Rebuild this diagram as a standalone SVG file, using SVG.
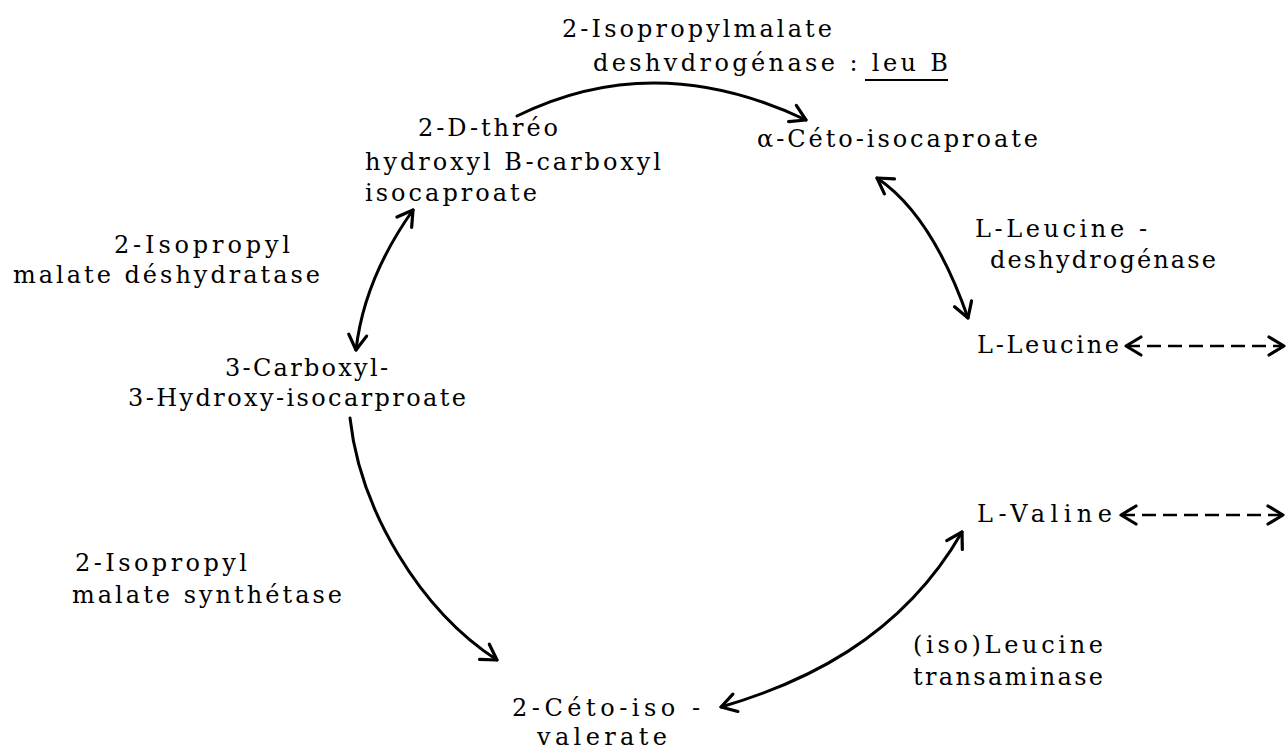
<svg xmlns="http://www.w3.org/2000/svg" width="1288" height="749" viewBox="0 0 1288 749">
<style>
text{font-family:"DejaVu Serif","Liberation Serif",serif;font-size:24px;fill:#000}
.c{fill:none;stroke:#000;stroke-width:3;stroke-linecap:round}
.d{fill:none;stroke:#000;stroke-width:2.5;stroke-dasharray:14 7}
</style>
<defs>
<marker id="ah" markerUnits="userSpaceOnUse" markerWidth="30" markerHeight="30" viewBox="-20 -15 30 30" refX="0" refY="0" orient="auto-start-reverse">
<path d="M-15,-9 L0,0 L-15,9" fill="none" stroke="#000" stroke-width="3.2" stroke-linecap="round" stroke-linejoin="round"/>
</marker>
</defs>
<rect width="1288" height="749" fill="#fff"/>
<g id="enzyme-leuB">
<text x="562" y="37" textLength="270">2-Isopropylmalate</text>
<text x="593" y="71" textLength="355">deshvdrogénase : leu B</text>
<line x1="865" y1="80" x2="948" y2="80" stroke="#000" stroke-width="2"/>
</g>
<g id="node-threo">
<text x="418" y="136" textLength="140">2-D-thréo</text>
<text x="365" y="170" textLength="296">hydroxyl B-carboxyl</text>
<text x="365" y="201" textLength="172">isocaproate</text>
</g>
<g id="node-ceto-isocaproate">
<text x="757" y="147" textLength="281">α-Céto-isocaproate</text>
</g>
<g id="enzyme-leu-deshydrogenase">
<text x="975" y="237" textLength="172">L-Leucine -</text>
<text x="990" y="268" textLength="226">deshydrogénase</text>
</g>
<g id="node-leucine">
<text x="977" y="353" textLength="142">L-Leucine</text>
</g>
<g id="enzyme-deshydratase">
<text x="114" y="253" textLength="176">2-Isopropyl</text>
<text x="13" y="283" textLength="307">malate déshydratase</text>
</g>
<g id="node-carboxyl">
<text x="225" y="376" textLength="163">3-Carboxyl-</text>
<text x="128" y="406" textLength="338">3-Hydroxy-isocarproate</text>
</g>
<g id="node-valine">
<text x="977" y="522" textLength="135">L-Valine</text>
</g>
<g id="enzyme-synthetase">
<text x="75" y="571" textLength="172">2-Isopropyl</text>
<text x="72" y="603" textLength="270">malate synthétase</text>
</g>
<g id="enzyme-transaminase">
<text x="913" y="653" textLength="190">(iso)Leucine</text>
<text x="913" y="685" textLength="190">transaminase</text>
</g>
<g id="node-ceto-isovalerate">
<text x="512" y="716" textLength="188">2-Céto-iso -</text>
<text x="537" y="745" textLength="130">valerate</text>
</g>
<g id="connectors">
<path class="c" d="M517,116 Q655,48 806,120" marker-end="url(#ah)"/>
<path class="c" d="M877,178 Q932,215 968,318" marker-start="url(#ah)" marker-end="url(#ah)"/>
<path class="c" d="M413,210 Q364,279 356,350" marker-start="url(#ah)" marker-end="url(#ah)"/>
<path class="c" d="M350,418 C360,510 420,610 497,660" marker-end="url(#ah)"/>
<path class="c" d="M721,707 C800,684 900,640 962,532" marker-start="url(#ah)" marker-end="url(#ah)"/>
<path class="d" d="M1126,346 L1284,346" marker-start="url(#ah)" marker-end="url(#ah)"/>
<path class="d" d="M1121,515 L1283,515" marker-start="url(#ah)" marker-end="url(#ah)"/>
</g>
</svg>
